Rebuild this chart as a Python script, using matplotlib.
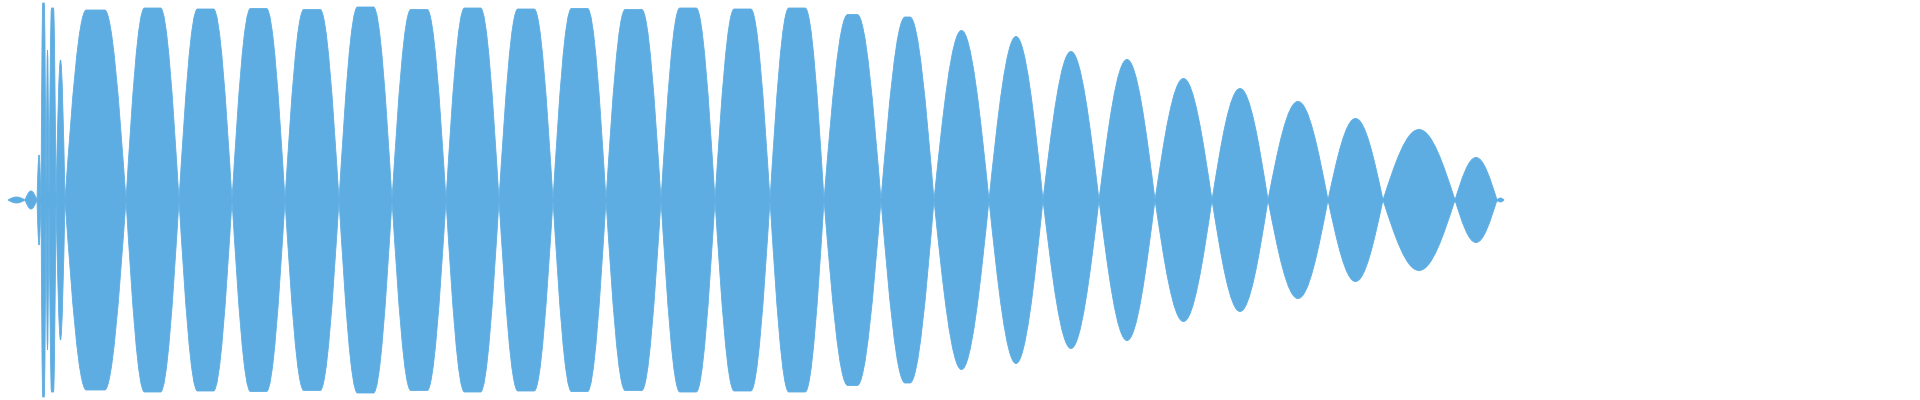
import numpy as np
import matplotlib
matplotlib.use("Agg")
import matplotlib.pyplot as plt
from matplotlib.path import Path
from matplotlib.patches import PathPatch

# waveform envelope: lobe boundaries (x, px) and lobe peak (px above centre line)
nodes = [8, 25, 37, 41, 46, 49, 56, 65, 126, 179, 232, 285, 339, 392, 446, 499,
         553, 606, 661, 715, 770, 824, 881, 934, 989, 1043, 1099, 1155, 1212,
         1268, 1328, 1383, 1455, 1497, 1504]
peaks = [3, 9, 45, 197, 150, 192, 140, 190, 192, 191, 191.5, 190.5, 193, 190.5,
         192, 191, 191.5, 190.5, 192, 191, 192, 185.5, 183, 169.5, 163.5, 148.5,
         140.5, 121.5, 111.5, 98.5, 81.5, 70.5, 42.5, 2]

color = "#5DADE2"
half_h = 200.0

fig = plt.figure(figsize=(19.2, 4), dpi=100)
ax = fig.add_axes([0, 0, 1, 1])
ax.set_xlim(0, 1920)
ax.set_ylim(-1, 1)
ax.axis("off")

# sine-like bezier for a quarter lobe; loud lobes get a flattened (clipped) top
u1, v1, u2 = 0.326, 0.512, 0.638

for x0, x1, p in zip(nodes[:-1], nodes[1:], peaks):
    a = p / half_h
    f = np.clip((p - 180) / 10, 0, 1)
    hw = (x1 - x0) / 2
    span = hw * (1 - 0.3 * f)   # rising part, the rest is flat top
    xl, xr = x0 + span, x1 - span
    verts = [(x0, 0),
             (x0 + u1 * span, v1 * a), (x0 + u2 * span, a), (xl, a),
             (xr, a),
             (x1 - u2 * span, a), (x1 - u1 * span, v1 * a), (x1, 0),
             (x1 - u1 * span, -v1 * a), (x1 - u2 * span, -a), (xr, -a),
             (xl, -a),
             (x0 + u2 * span, -a), (x0 + u1 * span, -v1 * a), (x0, 0),
             (x0, 0)]
    codes = ([Path.MOVETO] + [Path.CURVE4] * 3 + [Path.LINETO] + [Path.CURVE4] * 6
             + [Path.LINETO] + [Path.CURVE4] * 3 + [Path.CLOSEPOLY])
    ax.add_patch(PathPatch(Path(verts, codes), facecolor=color, edgecolor=color, lw=0.6))

# thin centre band joining the lobes
ax.plot([nodes[2], nodes[-2]], [0, 0], color=color, lw=2.5, solid_capstyle="butt")

fig.savefig("out.png", dpi=100)
